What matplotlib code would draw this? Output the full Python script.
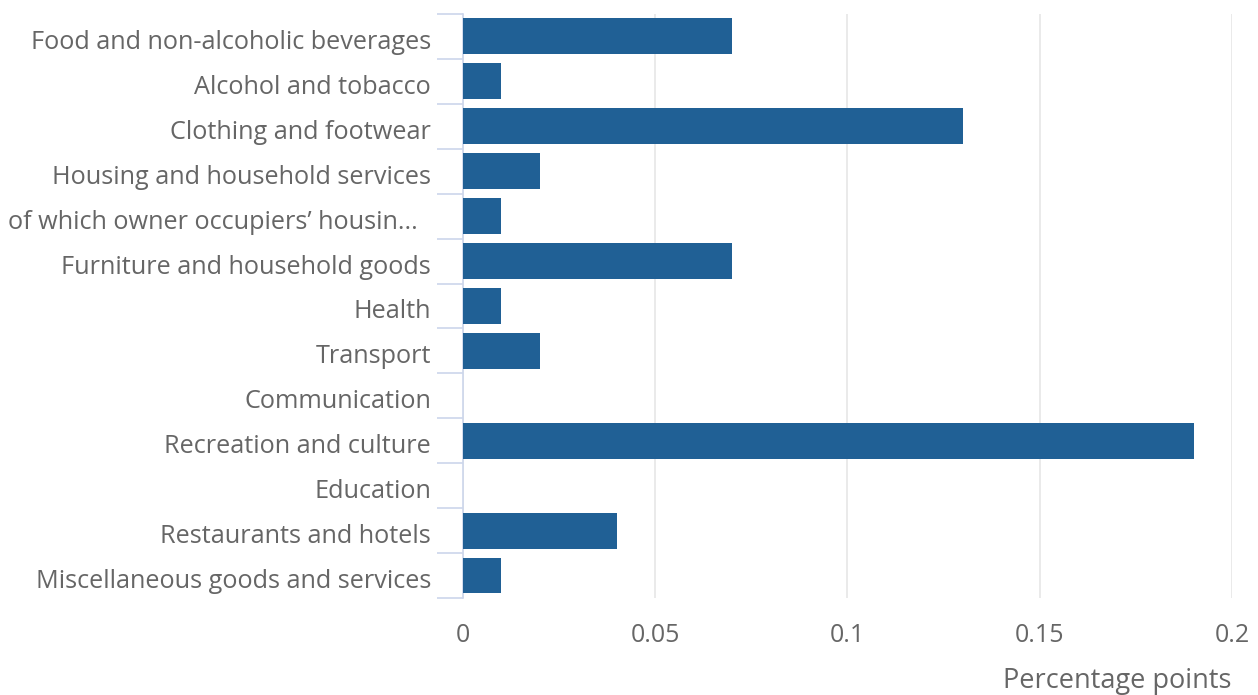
import matplotlib.pyplot as plt
from matplotlib.ticker import FixedLocator
from matplotlib.transforms import ScaledTranslation

categories = [
    "Food and non-alcoholic beverages",
    "Alcohol and tobacco",
    "Clothing and footwear",
    "Housing and household services",
    "of which owner occupiers\u2019 housin...\u00a0\u00a0",
    "Furniture and household goods",
    "Health",
    "Transport",
    "Communication",
    "Recreation and culture",
    "Education",
    "Restaurants and hotels",
    "Miscellaneous goods and services",
]
values = [0.07, 0.01, 0.13, 0.02, 0.01, 0.07, 0.01, 0.02, 0.0, 0.19, 0.0, 0.04, 0.01]
xticks = [0, 0.05, 0.1, 0.15, 0.2]
xtick_labels = ["0", "0.05", "0.1", "0.15", "0.2"]

plt.rcParams['font.family'] = ['Open Sans', 'DejaVu Sans']

fig = plt.figure(figsize=(12.58, 6.95), dpi=100)
ax = fig.add_axes([0.368, 0.1396, 0.6113, 0.8403])

pos = list(range(len(categories)))
ax.barh(pos, values, height=0.8, color='#206095', zorder=3)

ax.set_ylim(len(categories) - 0.5, -0.5)
ax.set_xlim(0, 0.2)

ax.set_yticks(pos)
ax.set_yticklabels(categories, fontsize=18.2, color='#666666')
ax.tick_params(axis='y', which='major', length=0, pad=23)
ax.yaxis.set_minor_locator(FixedLocator([i - 0.5 for i in range(len(categories) + 1)]))
ax.tick_params(axis='y', which='minor', length=19, width=1.2, color='#ccd6eb')

ax.set_xticks(xticks)
ax.set_xticklabels(xtick_labels, fontsize=18, color='#666666')
ax.tick_params(axis='x', length=0, pad=18)
ax.grid(axis='x', color='#e6e6e6', linewidth=1.2, zorder=0)

# nudge category labels down a little, like the original
shift = ScaledTranslation(0, -3 / 100, fig.dpi_scale_trans)
for lab in ax.get_yticklabels():
    lab.set_transform(lab.get_transform() + shift)

for side in ['top', 'right', 'bottom']:
    ax.spines[side].set_visible(False)
ax.spines['left'].set_color('#ccd6eb')
ax.spines['left'].set_linewidth(1.2)

fig.text(0.9793, 0.0, "Percentage points", ha='right', va='bottom', fontsize=19.5, color='#666666')

fig.savefig('out.png', dpi=100)
